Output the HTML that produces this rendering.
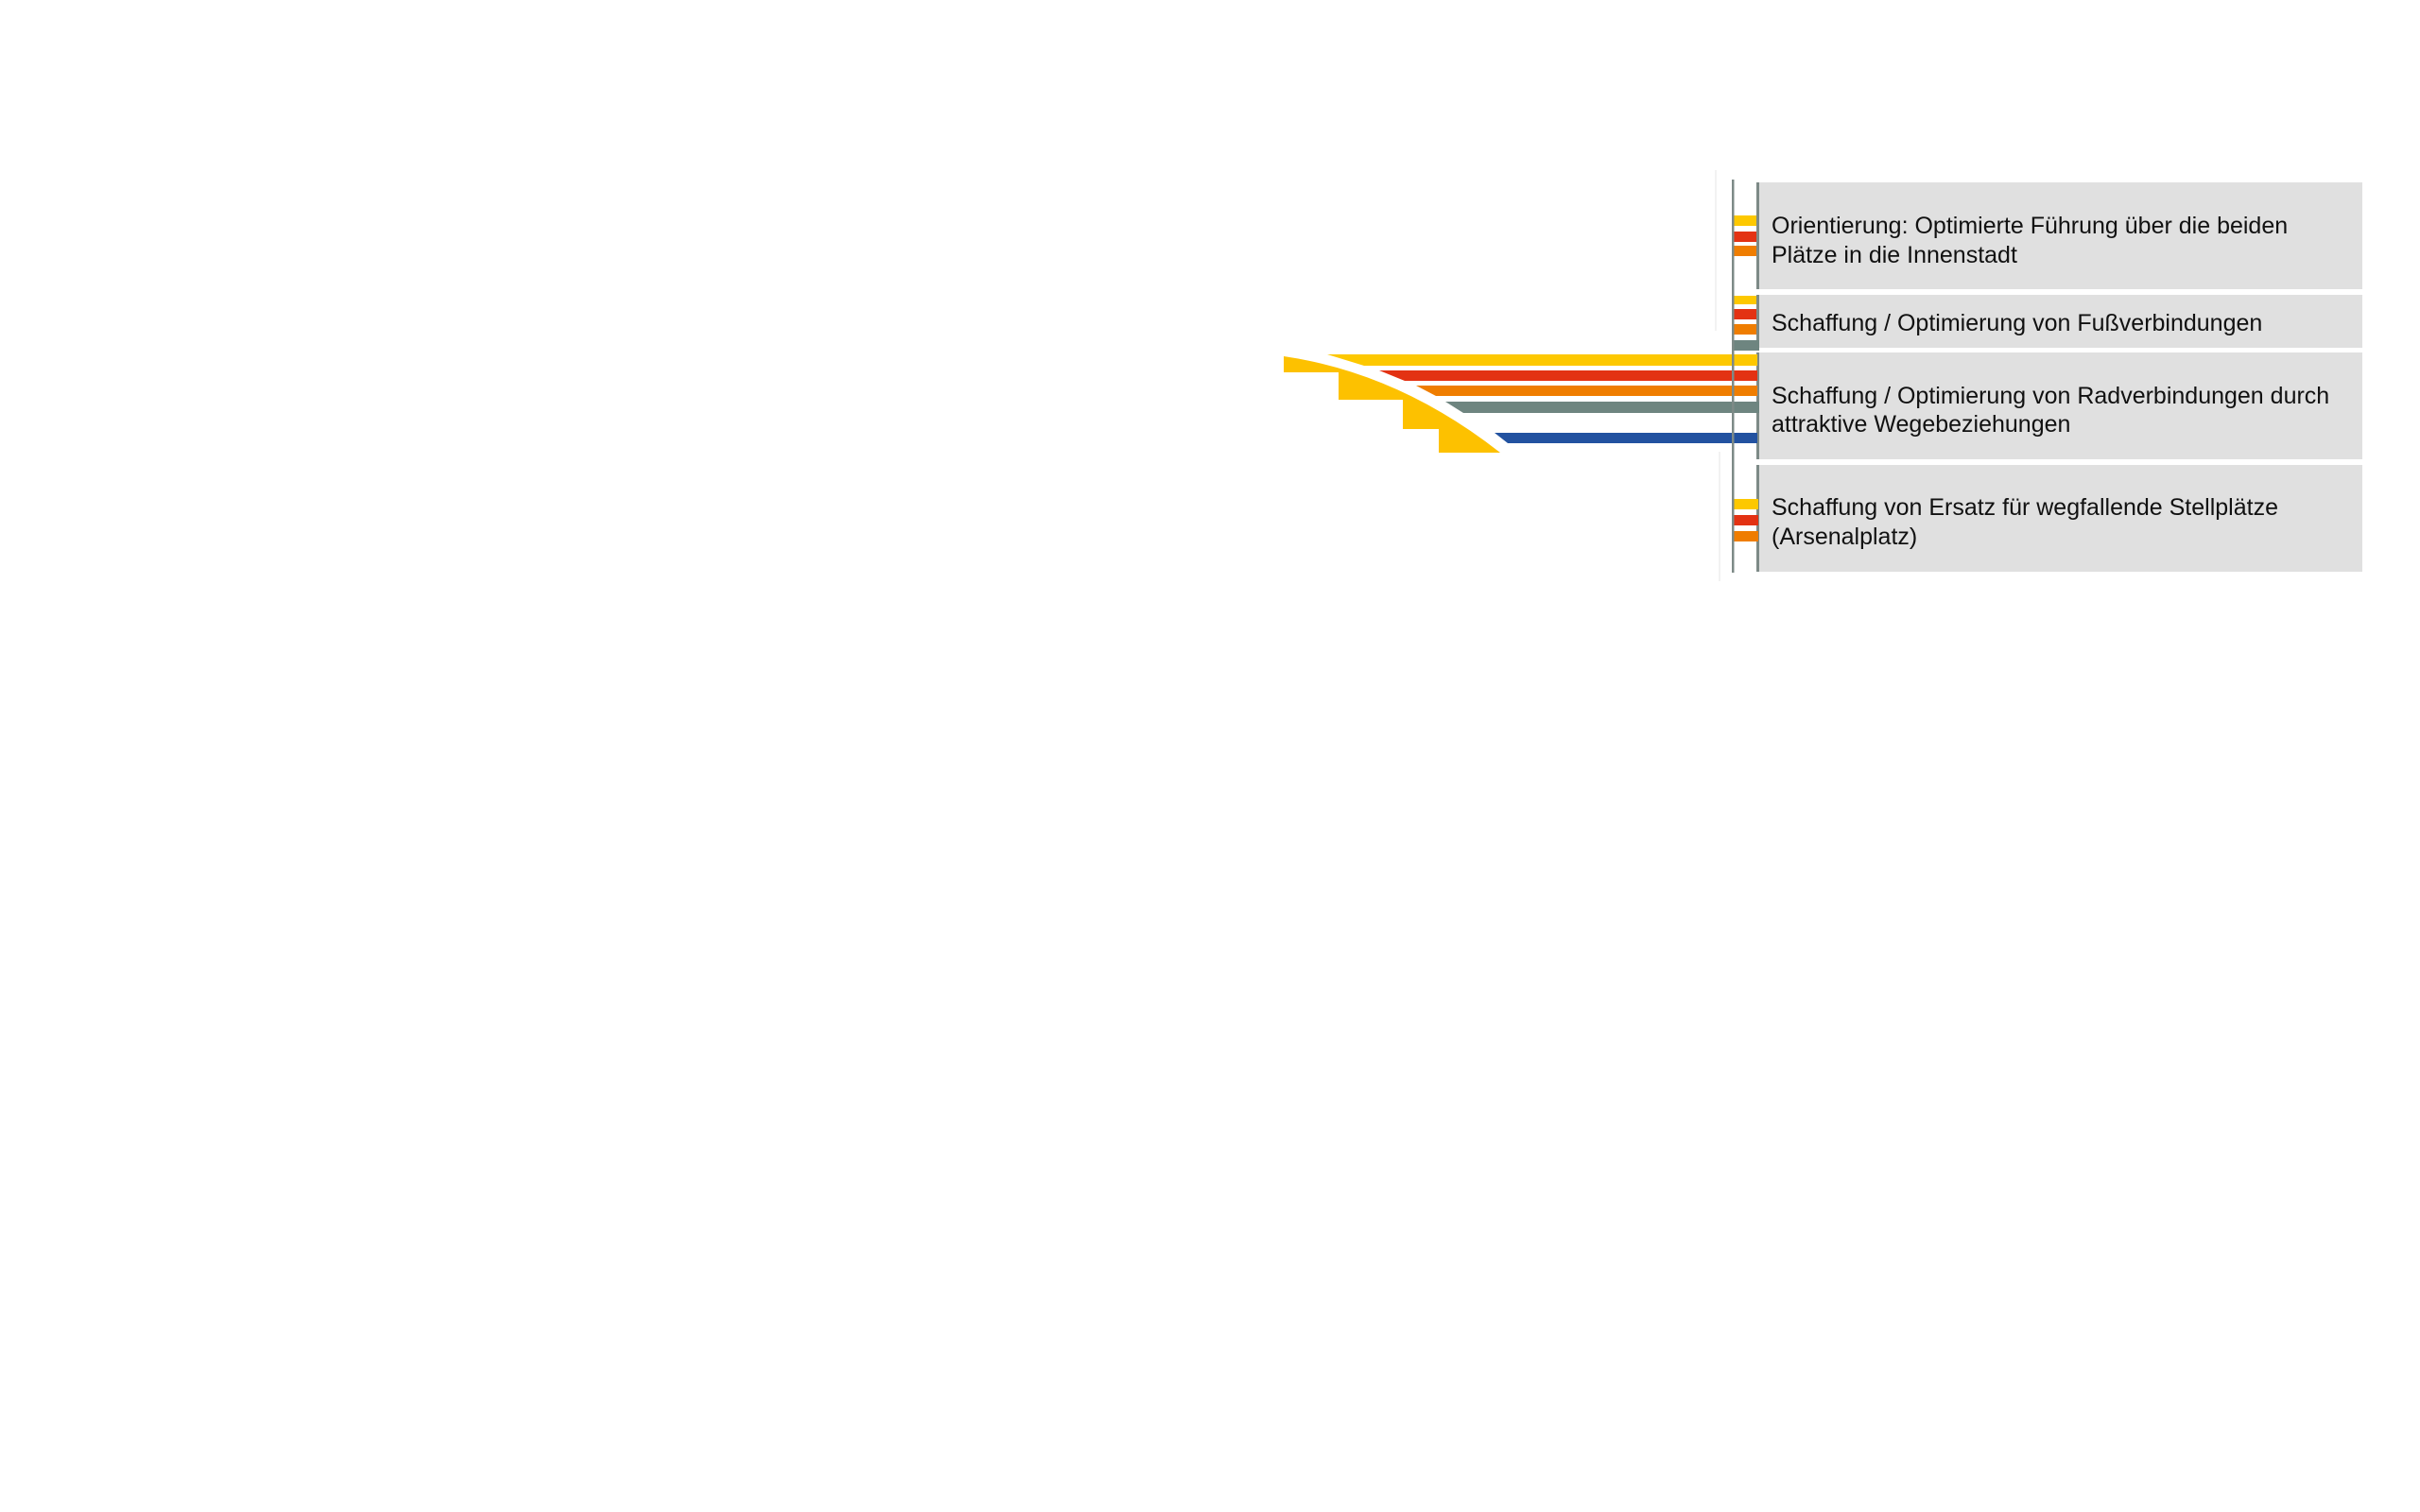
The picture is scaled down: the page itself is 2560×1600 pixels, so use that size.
<!DOCTYPE html>
<html><head><meta charset="utf-8">
<style>
html,body{margin:0;padding:0;background:#fff;}
body{width:2560px;height:1600px;position:relative;overflow:hidden;font-family:"Liberation Sans",sans-serif;}
.t{position:absolute;left:1874px;font-size:25px;line-height:31px;color:#111;white-space:nowrap;}
</style></head><body>
<svg width="2560" height="1600" style="position:absolute;left:0;top:0">
  <line x1="1815" y1="180" x2="1815" y2="350" stroke="#eeeeee" stroke-width="1.5"/>
  <line x1="1819" y1="478" x2="1819" y2="615" stroke="#eeeeee" stroke-width="1.5"/>
  <rect x="1859" y="193" width="640" height="113" fill="#e0e0e0"/>
  <rect x="1859" y="312" width="640" height="56" fill="#e0e0e0"/>
  <rect x="1859" y="373" width="640" height="113" fill="#e0e0e0"/>
  <rect x="1859" y="492" width="640" height="113" fill="#e0e0e0"/>
  <rect x="1858" y="193" width="3" height="113" fill="#7d8a87"/>
  <rect x="1858" y="312" width="3" height="56" fill="#7d8a87"/>
  <rect x="1858" y="373" width="3" height="113" fill="#7d8a87"/>
  <rect x="1858" y="492" width="3" height="113" fill="#7d8a87"/>
  <rect x="1833" y="228" width="25" height="11" fill="#fdc800"/>
  <rect x="1833" y="245" width="25" height="11" fill="#e33213"/>
  <rect x="1833" y="260" width="25" height="11" fill="#ef7d00"/>
  <rect x="1833" y="313" width="25" height="9" fill="#fdc800"/>
  <rect x="1833" y="327" width="25" height="11" fill="#e33213"/>
  <rect x="1833" y="343" width="25" height="11" fill="#ef7d00"/>
  <rect x="1833" y="360" width="28" height="11" fill="#6e8580"/>
  <rect x="1833" y="528" width="27" height="11" fill="#fdc800"/>
  <rect x="1833" y="545" width="27" height="11" fill="#e33213"/>
  <rect x="1833" y="562" width="27" height="11" fill="#ef7d00"/>
  <polygon points="1404,375 1859,375 1859,387 1443,387" fill="#fdc800"/>
  <polygon points="1459,392 1859,392 1859,403 1486,403" fill="#e33213"/>
  <polygon points="1498,408 1859,408 1859,419 1519,419" fill="#ef7d00"/>
  <polygon points="1529,425 1861,425 1861,437 1548,437" fill="#6e8580"/>
  <polygon points="1581,458 1859,458 1859,469 1595,469" fill="#2252a0"/>
  <path d="M1358,377 Q1480,395 1587,479 L1522,479 L1522,454 L1484,454 L1484,423 L1416,423 L1416,394 L1358,394 Z" fill="#fdc100"/>
  <rect x="1832" y="190" width="2.5" height="416" fill="#7d8a87"/>
</svg>
<div class="t" style="top:224px">Orientierung: Optimierte Führung über die beiden</div>
<div class="t" style="top:255px">Plätze in die Innenstadt</div>
<div class="t" style="top:327px">Schaffung / Optimierung von Fußverbindungen</div>
<div class="t" style="top:404px">Schaffung / Optimierung von Radverbindungen durch</div>
<div class="t" style="top:434px">attraktive Wegebeziehungen</div>
<div class="t" style="top:522px">Schaffung von Ersatz für wegfallende Stellplätze</div>
<div class="t" style="top:553px">(Arsenalplatz)</div>
</body></html>
